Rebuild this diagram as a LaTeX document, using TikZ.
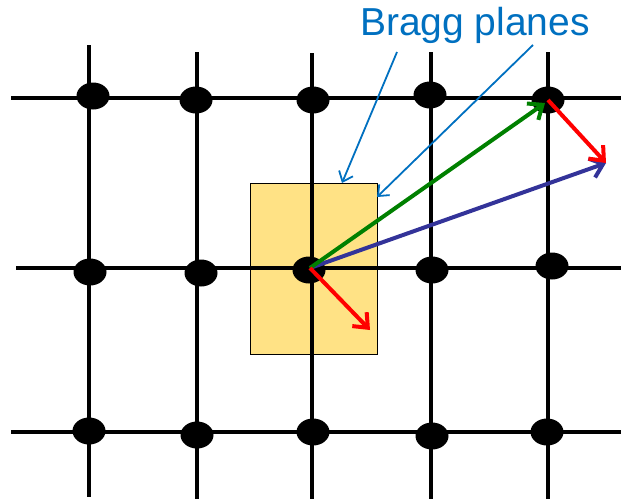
\documentclass[tikz,border=0pt]{standalone}
\usepackage{fontspec}
\setmainfont{Liberation Sans}
\usetikzlibrary{shapes.geometric,arrows.meta}
\definecolor{callblue}{HTML}{0070C0}
\definecolor{vecgreen}{HTML}{008000}
\definecolor{vecblue}{HTML}{333399}
\definecolor{vecred}{HTML}{FF0000}
\definecolor{planefill}{HTML}{FFE285}
\begin{document}
\begin{tikzpicture}[x=1pt,y=-1pt,
  gridline/.style={line width=3.5pt,black},
  dot/.style={ellipse,fill=black,minimum width=33pt,minimum height=27pt,inner sep=0pt},
  vec/.style={line width=4pt,-{Straight Barb[length=12pt,width=20pt]}},
  callout/.style={callblue,line width=1.8pt,-{Straight Barb[length=9pt,width=15pt]}}]
\useasboundingbox (0,0) rectangle (621,499);
% plane box
\node[draw=black,line width=0.8pt,fill=planefill,minimum width=127pt,minimum height=171pt,inner sep=0pt] (box) at (313.5,268.5) {};
% grid lines
\draw[gridline] (11,98) -- (621,98);
\draw[gridline] (16,268) -- (621,268);
\draw[gridline] (11,432) -- (621,432);
\draw[gridline] (89,45) -- (89,497);
\draw[gridline] (197,52) -- (197,499);
\draw[gridline] (312,53) -- (312,499);
\draw[gridline] (431,52) -- (431,499);
\draw[gridline] (548,52) -- (548,499);
% dots
\node[dot] (d11) at (93,96) {};
\node[dot] (d12) at (196,100) {};
\node[dot] (d13) at (313,100) {};
\node[dot] (d14) at (430,95) {};
\node[dot] (d15) at (548,100) {};
\node[dot] (d21) at (90,272) {};
\node[dot] (d22) at (201,273) {};
\node[dot] (d23) at (309,270) {};
\node[dot] (d24) at (432,270) {};
\node[dot] (d25) at (552,266) {};
\node[dot] (d31) at (89,431) {};
\node[dot] (d32) at (197,435) {};
\node[dot] (d33) at (313,432) {};
\node[dot] (d34) at (432,436) {};
\node[dot] (d35) at (547,432) {};
% vectors
\coordinate (o) at (310,268);
\coordinate (g) at (545,103);
\coordinate (t) at (606,163);
\coordinate (r) at (370,330);
\draw[vec,vecblue] (o) -- (t);
\draw[vec,vecgreen] (o) -- (g);
\draw[vec,vecred] (d15.center) -- (t);
\draw[vec,vecred] (o) -- (r);
% label
\node[callblue,font=\fontsize{39}{42}\selectfont,inner sep=0pt] (lbl) at (475,25) {Bragg planes};
\coordinate (c1) at (397,52);
\coordinate (c2) at (533,45);
\draw[callout] (c1) -- (342,183);
\draw[callout] (c2) -- (377,197);
\end{tikzpicture}
\end{document}
